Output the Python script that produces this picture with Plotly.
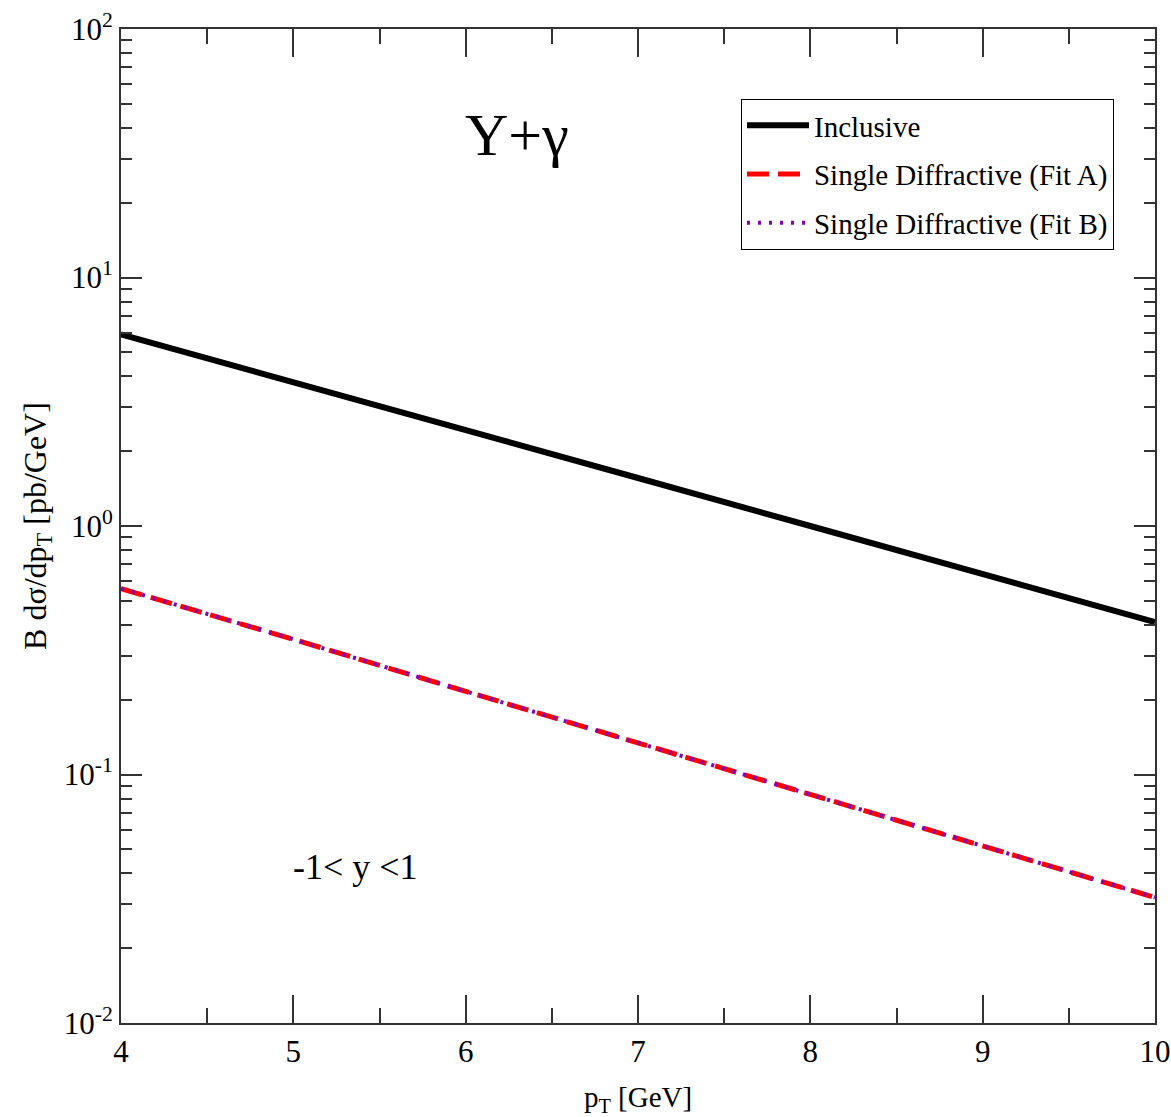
import plotly.graph_objects as go

pt = [4, 5, 6, 7, 8, 9, 10]
inclusive = [5.9, 3.8, 2.43, 1.56, 1.0, 0.64, 0.41]
sd_fit_a = [0.56, 0.35, 0.216, 0.134, 0.083, 0.0516, 0.032]
sd_fit_b = [0.56, 0.35, 0.216, 0.134, 0.083, 0.0516, 0.032]

y_major = [0.01, 0.1, 1, 10, 100]
y_major_text = ["10<sup>-2</sup>", "10<sup>-1</sup>", "10<sup>0</sup>", "10<sup>1</sup>", "10<sup>2</sup>"]
y_minor = [m * d for d in [0.01, 0.1, 1, 10] for m in range(2, 10)]

FONT = "Liberation Serif"
AX = "#333333"

fig = go.Figure()
fig.add_trace(go.Scatter(x=pt, y=inclusive, mode="lines", name="Inclusive",
                         legendgroup="a", line=dict(color="black", width=6)))
fig.add_trace(go.Scatter(x=pt, y=sd_fit_a, mode="lines", name="Single Diffractive (Fit A)",
                         legendgroup="b", line=dict(color="#ff0000", width=5, dash="22px,9px")))
fig.add_trace(go.Scatter(x=pt, y=sd_fit_b, mode="lines", name="Single Diffractive (Fit B)",
                         legendgroup="c", line=dict(color="#8000c0", width=4, dash="3px,8px")))

fig.update_layout(
    width=1171, height=1117,
    margin=dict(l=121, r=16, t=29, b=94, autoexpand=False),
    paper_bgcolor="white", plot_bgcolor="white",
    font=dict(family=FONT, color="black"),
    showlegend=True,
    legend=dict(x=0.5996, y=0.9296, xanchor="left", yanchor="top",
                bordercolor="black", borderwidth=1, bgcolor="white",
                itemwidth=62,
                font=dict(family=FONT, size=29), tracegroupgap=8),
    xaxis=dict(range=[4, 10], tickmode="array", tickvals=pt, ticktext=[str(v) for v in pt],
               ticks="inside", ticklen=28, tickwidth=2, tickcolor=AX,
               showline=True, linecolor=AX, linewidth=2, mirror="ticks",
               showgrid=False, zeroline=False, automargin=False,
               minor=dict(dtick=0.5, ticks="inside", ticklen=15, tickwidth=2, tickcolor=AX, showgrid=False),
               tickfont=dict(family=FONT, size=31),
               title=dict(text="p<sub>T</sub> [GeV]", font=dict(family=FONT, size=29), standoff=20)),
    yaxis=dict(type="log", range=[-2, 2], tickmode="array", tickvals=y_major, ticktext=y_major_text,
               ticks="inside", ticklen=21, tickwidth=2, tickcolor=AX,
               showline=True, linecolor=AX, linewidth=2, mirror="ticks",
               showgrid=False, zeroline=False, automargin=False,
               minor=dict(tickmode="array", tickvals=y_minor, ticks="inside", ticklen=11,
                          tickwidth=2, tickcolor=AX, showgrid=False),
               tickfont=dict(family=FONT, size=31),
               title=dict(text="B dσ/dp<sub>T</sub> [pb/GeV]", font=dict(family=FONT, size=32), standoff=8)),
    annotations=[
        dict(x=0.383, y=0.893, xref="paper", yref="paper", text="Υ+γ", showarrow=False,
             xanchor="center", yanchor="middle",
             font=dict(family=FONT, size=60)),
        dict(x=0.227, y=0.157, xref="paper", yref="paper", text="-1< y <1", showarrow=False,
             xanchor="center", yanchor="middle",
             font=dict(family=FONT, size=36)),
    ],
)

fig.write_html("out.html")
